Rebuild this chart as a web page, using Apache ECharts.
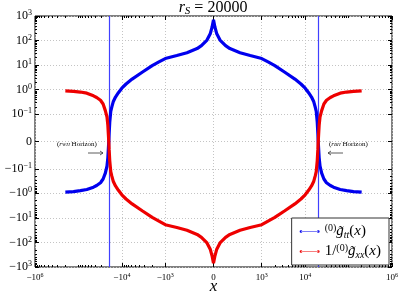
<!DOCTYPE html>
<html>
<head>
<meta charset="utf-8">
<script src="https://cdn.jsdelivr.net/npm/echarts@6/dist/echarts.min.js"></script>
<style>
html, body { margin: 0; padding: 0; background: #fff; }
#chart { width: 400px; height: 297px; }
</style>
</head>
<body>
<div id="chart"></div>
<script>
// values
var xVals = [-200000, -130000, -90000, -64000, -45000, -38000, -31000, -27000, -24000, -22000, -21000, -20400, -20000,
  -19600, -19000, -18000, -17000, -15800, -14000, -12000, -10000, -8000, -5800, -3400, -2000, -1400, -1000,
  -760, -550, -340, -250, -135, -65, -30, 0, 30, 65, 135, 250, 340, 550, 760,
  1000, 1400, 2000, 3400, 5800, 8000, 10000, 12000, 14000, 15800, 17000, 18000, 19000, 19600,
  20000, 20400, 21000, 22000, 24000, 27000, 31000, 38000, 45000, 64000, 90000, 130000, 200000];

var gttVals = [-0.9, -0.85, -0.78, -0.70, -0.56, -0.48, -0.37, -0.26, -0.15, -0.09, -0.06, -0.025, 0,
  0.03, 0.07, 0.13, 0.2, 0.32, 0.5, 0.75, 1.15, 1.7, 2.7, 5.1, 9.5, 13.5, 18.5,
  24.5, 32, 47, 62, 105, 195, 350, 700, 350, 195, 105, 62, 47, 32, 24.5,
  18.5, 13.5, 9.5, 5.1, 2.7, 1.7, 1.15, 0.75, 0.5, 0.32, 0.2, 0.13, 0.07, 0.03,
  0, -0.025, -0.06, -0.09, -0.15, -0.26, -0.37, -0.48, -0.56, -0.70, -0.78, -0.85, -0.9];

var gxxInvVals = [0.89, 0.85, 0.8, 0.72, 0.56, 0.48, 0.37, 0.26, 0.14, 0.09, 0.06, 0.025, 0,
  -0.03, -0.07, -0.13, -0.2, -0.32, -0.5, -0.75, -1.15, -1.7, -2.7, -5.1, -9.5, -13.5, -19,
  -24.5, -32, -47, -62, -105, -195, -350, -700, -350, -195, -105, -62, -47, -32, -24.5,
  -19, -13.5, -9.5, -5.1, -2.7, -1.7, -1.15, -0.75, -0.5, -0.32, -0.2, -0.13, -0.07, -0.03,
  0, 0.025, 0.06, 0.09, 0.14, 0.26, 0.37, 0.48, 0.56, 0.72, 0.8, 0.85, 0.89];

var horizons = [-20000, 20000];

var xTickVals = [-1e6, -1e4, -1e3, 0, 1e3, 1e4, 1e6];
var xTickText = ['−10^6', '−10^4', '−10^3', '0', '10^3', '10^4', '10^6'];
var yTickVals = [-1e3, -1e2, -1e1, -1, -0.1, 0, 0.1, 1, 10, 100, 1000];
var yTickText = ['−10^3', '−10^2', '−10^1', '−10^0', '−10^−1', '0', '10^−1', '10^0', '10^1', '10^2', '10^3'];

// symlog scale, linscale = 1 like matplotlib
var X_TH = 1000, Y_TH = 0.1;
var LINSCALE = 1 / (1 - 1 / 10);
function symlog(v, th) {
  var a = Math.abs(v);
  var t = a <= th ? a / th * LINSCALE : LINSCALE + Math.log10(a / th);
  return v < 0 ? -t : t;
}
function minors(decades) {
  var out = [];
  decades.forEach(function (d) {
    for (var k = 2; k <= 9; k++) { out.push(k * d); out.push(-k * d); }
  });
  return out;
}

var xMax = symlog(1e6, X_TH), yMax = symlog(1e3, Y_TH);
var xMajor = xTickVals.map(function (v) { return symlog(v, X_TH); });
var yMajor = yTickVals.map(function (v) { return symlog(v, Y_TH); });
var xMinor = minors([1e3, 1e4, 1e5]).concat([1e5, -1e5]).map(function (v) { return symlog(v, X_TH); });
var yMinor = minors([0.1, 1, 10, 100]).map(function (v) { return symlog(v, Y_TH); });

function richLabel(s) {
  if (s.indexOf('^') < 0) return '{b|' + s + '}';
  var p = s.split('^');
  return '{b|' + p[0] + '}{s|' + p[1] + '}';
}
function labelFor(pos, texts) {
  return function (v) {
    for (var i = 0; i < pos.length; i++) {
      if (Math.abs(pos[i] - v) < 1e-6) return richLabel(texts[i]);
    }
    return '';
  };
}

var serif = 'Liberation Serif';
var tickColor = '#000';

function tickAxis(pos, vals, len) {
  var isX = pos === 'bottom' || pos === 'top';
  return {
    type: 'value', position: pos, min: isX ? -xMax : -yMax, max: isX ? xMax : yMax,
    axisLine: { show: false, onZero: false },
    axisTick: { inside: true, length: len, customValues: vals, lineStyle: { color: tickColor, width: 1 } },
    axisLabel: { show: false },
    splitLine: { show: false }
  };
}

var xMain = {
  type: 'value', position: 'bottom', min: -xMax, max: xMax,
  name: 'x', nameLocation: 'middle', nameGap: 11, nameMoveOverlap: false,
  nameTextStyle: { fontFamily: serif, fontSize: 17, fontStyle: 'italic', color: '#000' },
  axisLine: { show: false, onZero: false },
  axisTick: { inside: true, length: 4, customValues: xMajor, lineStyle: { color: tickColor } },
  axisLabel: {
    customValues: xMajor, margin: 5, formatter: labelFor(xMajor, xTickText),
    rich: {
      b: { fontFamily: serif, fontSize: 9, lineHeight: 11, color: '#000' },
      s: { fontFamily: serif, fontSize: 6, lineHeight: 6, verticalAlign: 'top', color: '#000' }
    }
  },
  splitLine: { show: true, lineStyle: { color: '#c4c4c4', type: [1, 2], width: 1 } }
};
var yMain = {
  type: 'value', position: 'left', min: -yMax, max: yMax,
  axisLine: { show: false, onZero: false },
  axisTick: { inside: true, length: 4, customValues: yMajor, lineStyle: { color: tickColor } },
  axisLabel: {
    customValues: yMajor, margin: 3, formatter: labelFor(yMajor, yTickText),
    rich: {
      b: { fontFamily: serif, fontSize: 12, lineHeight: 14, color: '#000' },
      s: { fontFamily: serif, fontSize: 8, lineHeight: 8, verticalAlign: 'top', color: '#000' }
    }
  },
  splitLine: { show: true, lineStyle: { color: '#c4c4c4', type: [1, 2], width: 1 } }
};

function toPts(ys) {
  return xVals.map(function (x, i) { return [symlog(x, X_TH), symlog(ys[i], Y_TH)]; });
}

var legendRich = {
  rm: { fontFamily: serif, fontSize: 15, lineHeight: 17, color: '#000' },
  it: { fontFamily: serif, fontSize: 15, lineHeight: 17, fontStyle: 'italic', color: '#000' },
  sp: { fontFamily: serif, fontSize: 10, lineHeight: 8, verticalAlign: 'top', color: '#000' },
  sb: { fontFamily: serif, fontSize: 10, lineHeight: 7, verticalAlign: 'bottom', fontStyle: 'italic', color: '#000' }
};
var ICON = 'path://M0,2.5a1.5,1.5 0 1,0 3,0a1.5,1.5 0 1,0 -3,0ZM1.5,2.1H20.5V2.9H1.5ZM19,2.5a1.5,1.5 0 1,0 3,0a1.5,1.5 0 1,0 -3,0Z';

var horizonRich = {
  p: { fontFamily: serif, fontSize: 7, color: '#222' },
  i: { fontFamily: serif, fontSize: 7, fontStyle: 'italic', color: '#222' },
  s: { fontFamily: serif, fontSize: 5, fontStyle: 'italic', color: '#222', verticalAlign: 'bottom', lineHeight: 5 }
};

var chart = echarts.init(document.getElementById('chart'));
var option = {
  animation: false,
  backgroundColor: '#fff',
  title: {
    text: '{i|r}{s|S}{n| = 20000}',
    left: 213, top: -1, padding: 0, textAlign: 'center',
    textStyle: {
      fontWeight: 'normal',
      rich: {
        i: { fontFamily: serif, fontSize: 16, lineHeight: 18, fontStyle: 'italic', fontWeight: 'normal', color: '#000' },
        s: { fontFamily: serif, fontSize: 11, lineHeight: 8, fontStyle: 'italic', fontWeight: 'normal', verticalAlign: 'bottom', color: '#000' },
        n: { fontFamily: serif, fontSize: 16, lineHeight: 18, fontWeight: 'normal', color: '#000' }
      }
    }
  },
  grid: {
    left: 35, right: 8, top: 16, bottom: 30, outerBoundsMode: 'none', containLabel: false,
    show: true, borderColor: '#000', borderWidth: 1, backgroundColor: '#fff'
  },
  xAxis: [xMain, tickAxis('top', xMajor, 4), tickAxis('bottom', xMinor, 2), tickAxis('top', xMinor, 2)],
  yAxis: [yMain, tickAxis('right', yMajor, 4), tickAxis('left', yMinor, 2), tickAxis('right', yMinor, 2)],
  legend: {
    orient: 'vertical', right: 11, bottom: 32,
    backgroundColor: '#fff', borderColor: '#333', borderWidth: 1, borderRadius: 0,
    padding: [5, 8, 5, 8], itemGap: 3, itemWidth: 20, itemHeight: 6,
    icon: ICON,
    data: ['gtt', 'gxx'],
    textStyle: { rich: legendRich },
    formatter: function (name) {
      if (name === 'gtt') return '{sp|(0)}{it|g̃}{sb|tt}{rm|(}{it|x}{rm|)}';
      return '{rm|1/}{sp|(0)}{it|g̃}{sb|xx}{rm|(}{it|x}{rm|)}';
    }
  },
  series: [
    {
      name: 'gtt', type: 'line', data: toPts(gttVals), showSymbol: false,
      lineStyle: { color: '#0000ee', width: 3.2 }, itemStyle: { color: '#0000ee' },
      markLine: {
        silent: true, symbol: 'none', z: 1,
        label: { show: false },
        lineStyle: { color: '#4040ff', width: 1.2, type: 'solid' },
        data: horizons.map(function (h) { return { xAxis: symlog(h, X_TH) }; })
      }
    },
    {
      name: 'gxx', type: 'line', data: toPts(gxxInvVals), showSymbol: false,
      lineStyle: { color: '#ee0000', width: 3.2 }, itemStyle: { color: '#ee0000' }
    }
  ],
  graphic: [
    { type: 'text', x: 57, y: 144, style: { text: '{p|(}{i|r}{s|WH}{p| Horizon)}', rich: horizonRich, verticalAlign: 'middle' } },
    { type: 'text', x: 329, y: 144, style: { text: '{p|(}{i|r}{s|BH}{p| Horizon)}', rich: horizonRich, verticalAlign: 'middle' } },
    { type: 'line', shape: { x1: 88, y1: 153, x2: 103, y2: 153 }, style: { stroke: '#333', lineWidth: 0.8 } },
    { type: 'polyline', shape: { points: [[100, 151], [103, 153], [100, 155]] }, style: { stroke: '#333', lineWidth: 0.8, fill: null } },
    { type: 'line', shape: { x1: 328, y1: 153, x2: 343, y2: 153 }, style: { stroke: '#333', lineWidth: 0.8 } },
    { type: 'polyline', shape: { points: [[331, 151], [328, 153], [331, 155]] }, style: { stroke: '#333', lineWidth: 0.8, fill: null } }
  ]
};
chart.setOption(option);
</script>
</body>
</html>
